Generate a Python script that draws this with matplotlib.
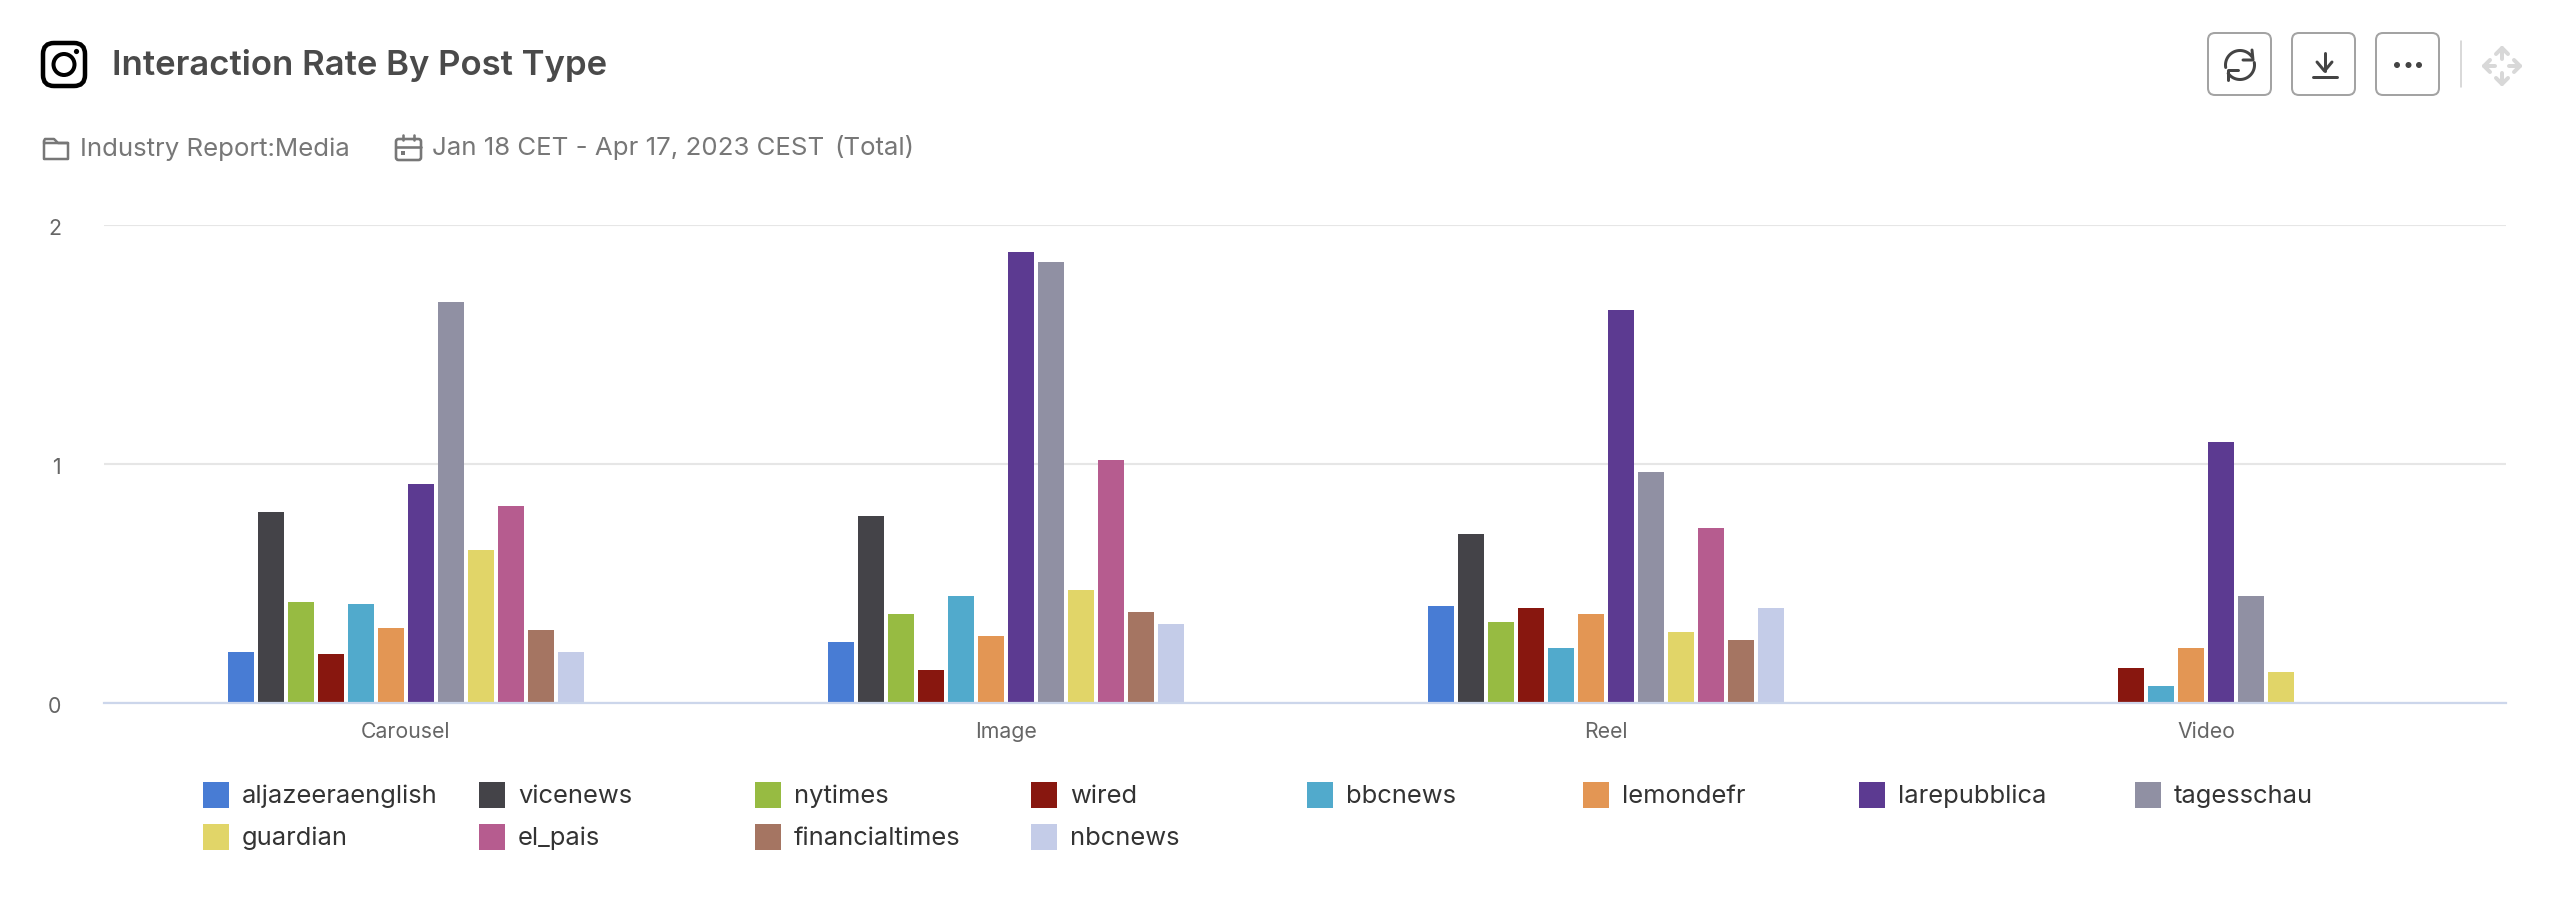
import numpy as np
import matplotlib
matplotlib.use('Agg')
import matplotlib.pyplot as plt
from matplotlib.patches import FancyBboxPatch, Circle, Rectangle
from matplotlib.transforms import ScaledTranslation

categories = ['Carousel', 'Image', 'Reel', 'Video']
y_ticks = [0, 1, 2]

# interaction rate per post type, nan = no bar
aljazeeraenglish = [0.213, 0.255, 0.406, np.nan]
vicenews = [0.799, 0.782, 0.707, np.nan]
nytimes = [0.423, 0.372, 0.339, np.nan]
wired = [0.205, 0.138, 0.397, 0.146]
bbcnews = [0.414, 0.448, 0.230, 0.071]
lemondefr = [0.314, 0.280, 0.372, 0.230]
larepubblica = [0.916, 1.887, 1.644, 1.092]
tagesschau = [1.678, 1.845, 0.967, 0.448]
guardian = [0.640, 0.473, 0.297, 0.130]
el_pais = [0.824, 1.017, 0.732, np.nan]
financialtimes = [0.305, 0.381, 0.264, np.nan]
nbcnews = [0.213, 0.331, 0.397, np.nan]

names = ['aljazeeraenglish', 'vicenews', 'nytimes', 'wired', 'bbcnews', 'lemondefr',
         'larepubblica', 'tagesschau', 'guardian', 'el_pais', 'financialtimes', 'nbcnews']
series = [aljazeeraenglish, vicenews, nytimes, wired, bbcnews, lemondefr,
          larepubblica, tagesschau, guardian, el_pais, financialtimes, nbcnews]
colors = ['#487cd4', '#444348', '#97bb42', '#88170f', '#51aacc', '#e39654',
          '#5c3a91', '#9090a3', '#e1d568', '#b65c8f', '#a57562', '#c4cce8']

plt.rcParams['font.family'] = ['Inter', 'DejaVu Sans']

W, H = 2568, 898
fig = plt.figure(figsize=(W / 100, H / 100), dpi=100, facecolor='white')

# plot area in pixels
left, right, top, bottom = 104, 2506, 225, 703
ax = fig.add_axes([left / W, 1 - bottom / H, (right - left) / W, (bottom - top) / H])
ax.set_xlim(-0.5033, 3.5)
ax.set_ylim(0, 2)

pitch = 30.08 / 600
width = 26 / 600
values = np.array(series, dtype=float)
for j in range(len(categories)):
    present = np.where(~np.isnan(values[:, j]))[0]
    for k, i in enumerate(present):
        off = (k - (len(present) - 1) / 2) * pitch
        ax.bar(j + off, values[i, j], width=width, color=colors[i], zorder=3, linewidth=0)

for s in ['top', 'left', 'right']:
    ax.spines[s].set_visible(False)
ax.spines['bottom'].set_color('#ccd6eb')
ax.spines['bottom'].set_linewidth(1.6)
ax.spines['bottom'].set_zorder(4)
ax.set_yticks(y_ticks)
ax.set_xticks(range(len(categories)))
ax.set_xticklabels(categories)
ax.grid(axis='y', color='#e6e6e6', linewidth=1.5, zorder=0)
ax.set_axisbelow(True)
ax.tick_params(axis='both', length=0, labelsize=15.3, labelcolor='#666666')
ax.tick_params(axis='x', pad=14)
ax.tick_params(axis='y', pad=31)
for lab in ax.get_yticklabels():
    lab.set_transform(lab.get_transform() + ScaledTranslation(0, -0.02, fig.dpi_scale_trans))

# page furniture, in pixel coordinates
ov = fig.add_axes([0, 0, 1, 1], facecolor='none')
ov.set_xlim(0, W)
ov.set_ylim(H, 0)
ov.axis('off')

PX = 0.72


def stroke(xs, ys, color, lw):
    ov.plot(xs, ys, color=color, lw=lw * PX, solid_capstyle='round', solid_joinstyle='round')


def rbox(x0, y0, x1, y1, r, ec, lw, fc='none'):
    ov.add_patch(FancyBboxPatch((x0 + r, y0 + r), x1 - x0 - 2 * r, y1 - y0 - 2 * r,
                                boxstyle='round,pad=%f,rounding_size=%f' % (r, r),
                                fc=fc, ec=ec, lw=lw * PX))


def arc(cx, cy, r, a0, a1, color, lw):
    t = np.radians(np.linspace(a0, a1, 40))
    stroke(cx + r * np.cos(t), cy - r * np.sin(t), color, lw)


ov.text(112, 66, 'Interaction Rate By Post Type', fontsize=25, fontweight='semibold',
        color='#4a4a4a', va='center', ha='left')
ov.text(80, 149, 'Industry Report:Media', fontsize=18.6, color='#777777', va='center')
ov.text(432, 149, 'Jan 18 CET - Apr 17, 2023 CEST', fontsize=18.6, color='#777777', va='center')
ov.text(834, 149, '(Total)', fontsize=18.6, color='#777777', va='center')

# instagram logo
rbox(43, 43, 85, 86, 11, 'black', 4.5)
ov.add_patch(Circle((64, 64.5), 10.5, fc='none', ec='black', lw=4 * PX))
ov.add_patch(Circle((76.5, 51.5), 2.6, fc='black', ec='none'))

# folder
stroke([44, 44, 55, 59, 68, 68, 44], [141, 159, 159, 159, 159, 143, 143], '#777777', 2.5)
stroke([44, 45, 54, 58, 68], [141, 139, 139, 143, 143], '#777777', 2.5)

# calendar
rbox(396, 139, 421, 160, 2.5, '#777777', 2.6)
stroke([396, 421], [147, 147], '#777777', 2.6)
stroke([403, 403], [135, 140], '#777777', 2.6)
stroke([414, 414], [135, 140], '#777777', 2.6)
ov.add_patch(Rectangle((401, 151), 4, 4, fc='#777777', ec='none'))

# toolbar buttons
for x0 in [2208, 2292, 2376]:
    rbox(x0, 33, x0 + 63, 95, 7, '#a3a3a3', 2)

ink = '#444444'
arc(2240, 65, 14.5, 190, 35, ink, 3)
arc(2240, 65, 14.5, 10, -145, ink, 3)
stroke([2252, 2253, 2243], [50, 60, 60], ink, 3)
stroke([2228, 2228, 2238], [80, 70, 70], ink, 3)

stroke([2324.5, 2324.5], [53, 71], ink, 3)
stroke([2317, 2324.5, 2332], [62, 71, 62], ink, 3)
stroke([2313, 2337], [77, 77], ink, 3)

for x in [2397, 2408.5, 2419]:
    ov.add_patch(Circle((x, 65), 3, fc=ink, ec='none'))

stroke([2461, 2461], [41, 87], '#d0d0d0', 1.6)

# move handle
mv = '#d8d8d8'
cx, cy = 2502, 66
stroke([cx, cx], [cy - 18, cy - 7], mv, 4)
stroke([cx, cx], [cy + 18, cy + 7], mv, 4)
stroke([cx - 18, cx - 7], [cy, cy], mv, 4)
stroke([cx + 18, cx + 7], [cy, cy], mv, 4)
stroke([cx - 6, cx, cx + 6], [cy - 12, cy - 18, cy - 12], mv, 4)
stroke([cx - 6, cx, cx + 6], [cy + 12, cy + 18, cy + 12], mv, 4)
stroke([cx - 12, cx - 18, cx - 12], [cy - 6, cy, cy + 6], mv, 4)
stroke([cx + 12, cx + 18, cx + 12], [cy - 6, cy, cy + 6], mv, 4)

# legend, fixed column grid
for i, (name, col) in enumerate(zip(names, colors)):
    row, c = divmod(i, 8)
    x0 = 203 + 276 * c
    y0 = 782 + 42 * row
    ov.add_patch(Rectangle((x0, y0), 26, 26, fc=col, ec='none'))
    ov.text(x0 + 39, y0 + 14.5, name, fontsize=18.4, color='#333333', va='center')

fig.savefig('out.png', dpi=100)
